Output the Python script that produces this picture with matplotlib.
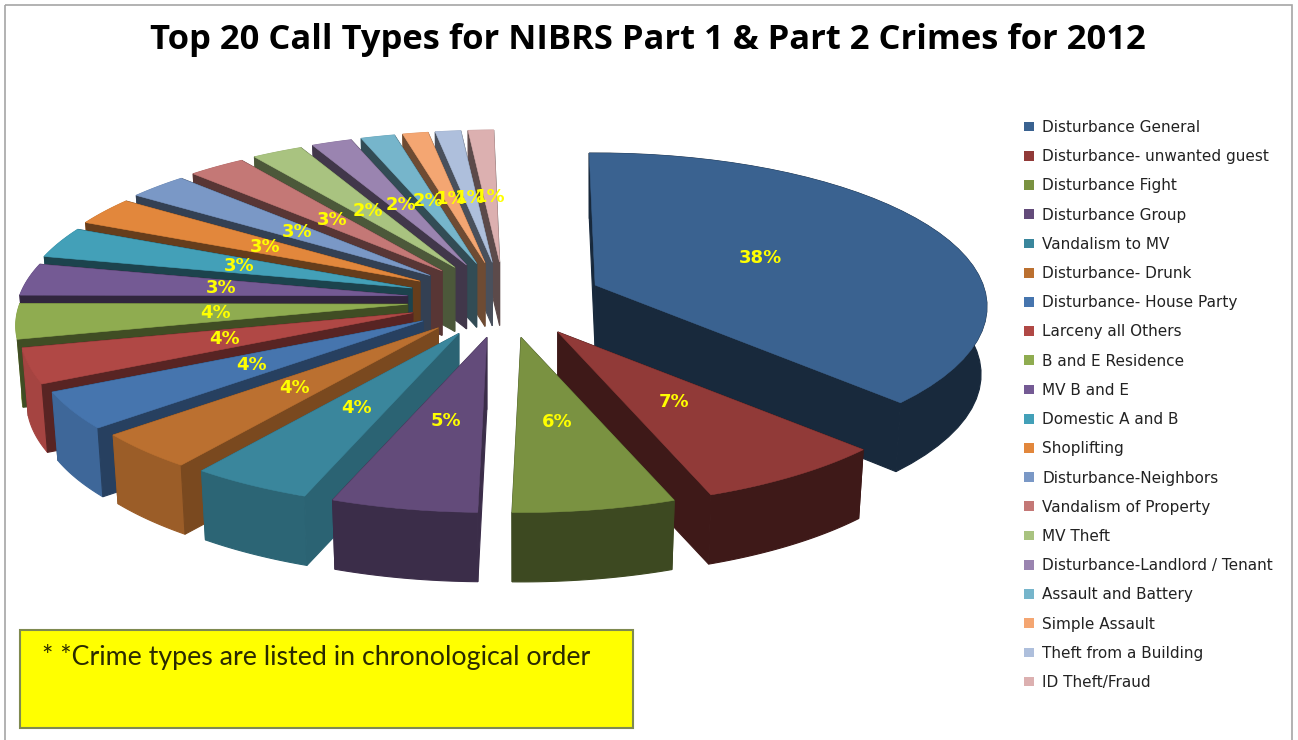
from __future__ import annotations

import numpy as np
import matplotlib
matplotlib.use("Agg")
import matplotlib.pyplot as plt
from matplotlib.patches import Patch, Polygon, Rectangle

call_types = [
    "Disturbance General", "Disturbance- unwanted guest", "Disturbance Fight",
    "Disturbance Group", "Vandalism to MV", "Disturbance- Drunk",
    "Disturbance- House Party", "Larceny all Others", "B and E Residence",
    "MV B and E", "Domestic A and B", "Shoplifting", "Disturbance-Neighbors",
    "Vandalism of Property", "MV Theft", "Disturbance-Landlord / Tenant",
    "Assault and Battery", "Simple Assault", "Theft from a Building",
    "ID Theft/Fraud",
]
call_shares = [37.8, 7.0, 5.9, 5.3, 4.4, 3.8, 3.9, 3.7, 3.7, 3.4,
               3.3, 3.0, 2.8, 2.7, 2.4, 1.9, 1.6, 1.2, 1.2, 1.2]
top_colors = [
    "#3a6290", "#913a38", "#7a9241", "#634b7a", "#3a869c", "#bb7030", "#4675ae",
    "#b04845", "#8fac50", "#745a94", "#43a0b8", "#e2873c", "#7a98c6", "#c47876",
    "#a9c380", "#9a84b0", "#76b5cb", "#f4a672", "#aebfdc", "#dcb0b0",
]
# wall brightness relative to the top face
radial_shades = [0.42, 0.43, 0.5, 0.6, 0.74, 0.65, 0.55, 0.5, 0.45, 0.42,
                 0.42, 0.45, 0.42, 0.45, 0.45, 0.42, 0.42, 0.45, 0.42, 0.42]
outer_shades = [0.42, 0.43, 0.5, 0.6, 0.75, 0.83, 0.88, 0.94, 0.95, 0.9,
                0.9, 0.9, 0.9, 0.9, 0.9, 0.9, 0.9, 0.9, 0.9, 0.9]

title = "Top 20 Call Types for NIBRS Part 1 & Part 2 Crimes for 2012"
note = "* *Crime types are listed in chronological order"

CENTER_X, CENTER_Y = 505, 300
EXPLODE_X, EXPLODE_Y = 98, 38
RADIUS_X, RADIUS_Y = 388, 150.5
PERSPECTIVE = 0.14
WALL = 67.5
START_ANGLE = -1.0


def rim(angles):
    u = np.sin(np.radians(angles))
    v = -np.cos(np.radians(angles))
    scale = 1 - PERSPECTIVE * v
    return RADIUS_X * u / scale, RADIUS_Y * v / scale


def wall_height(angles):
    return WALL / (1 - 0.45 * PERSPECTIVE * -np.cos(np.radians(angles)))


def shade(color, factor):
    return tuple(c * factor for c in matplotlib.colors.to_rgb(color))


fig = plt.figure(figsize=(12.98, 7.4), dpi=100)
ax = fig.add_axes([0, 0, 1, 1])
ax.set_xlim(0, 1298)
ax.set_ylim(740, 0)
ax.axis("off")

ax.add_patch(Rectangle((5, 5), 1287, 760, fill=False, ec="#a6a6a6", lw=1.2))

shares = np.array(call_shares) / sum(call_shares) * 360
edges = START_ANGLE + np.concatenate([[0], np.cumsum(shares)])
middles = (edges[:-1] + edges[1:]) / 2

# back to front so nearer slices cover the others
for i in np.argsort(-np.cos(np.radians(middles))):
    a0, a1, mid = edges[i], edges[i + 1], middles[i]
    apex_x = CENTER_X + EXPLODE_X * np.sin(np.radians(mid))
    apex_y = CENTER_Y - EXPLODE_Y * np.cos(np.radians(mid))
    arc = np.linspace(a0, a1, 40)
    dx, dy = rim(arc)
    heights = wall_height(arc)
    apex_h = wall_height(mid)
    top = np.column_stack([apex_x + dx, apex_y + dy])
    bottom = np.column_stack([apex_x + 0.985 * dx, apex_y + 0.985 * dy + heights])
    side = shade(top_colors[i], radial_shades[i])
    front = shade(top_colors[i], outer_shades[i])

    start_wall = [(apex_x, apex_y), top[0], bottom[0], (apex_x, apex_y + apex_h)]
    end_wall = [(apex_x, apex_y), top[-1], bottom[-1], (apex_x, apex_y + apex_h)]
    outer_wall = np.vstack([top, bottom[::-1]])
    if mid < 180:
        faces = [(start_wall, side), (outer_wall, front), (end_wall, side)]
    else:
        faces = [(end_wall, side), (outer_wall, front), (start_wall, side)]
    for points, color in faces:
        ax.add_patch(Polygon(points, closed=True, fc=color, ec=color, lw=0.8))
    face = np.vstack([[(apex_x, apex_y)], top])
    ax.add_patch(Polygon(face, closed=True, fc=top_colors[i], ec=top_colors[i], lw=0.4))

for i, mid in enumerate(middles):
    dx, dy = rim(mid)
    label_x = CENTER_X + EXPLODE_X * np.sin(np.radians(mid)) + 0.49 * dx
    label_y = CENTER_Y - EXPLODE_Y * np.cos(np.radians(mid)) + 0.49 * dy
    ax.text(label_x, label_y, f"{round(call_shares[i])}%", color="#ffff00", fontsize=13,
            fontweight="bold", ha="center", va="center", zorder=10)

ax.text(648, 40, title, fontsize=24.8, fontweight="bold", family="Open Sans",
        ha="center", va="center", color="black")

handles = [Patch(fc=c, ec="none") for c in top_colors]
ax.legend(handles, call_types, loc="upper left", bbox_to_anchor=(1024 / 1298, 1 - 120 / 740),
          frameon=False, labelspacing=0.93, handlelength=0.66, handleheight=0.6,
          handletextpad=0.52, borderpad=0, borderaxespad=0,
          prop={"family": "DejaVu Sans", "size": 11}, labelcolor="#222222")

ax.add_patch(Rectangle((20, 630), 613, 98, fc="#ffff00", ec="#7f8a50", lw=1.5, zorder=5))
ax.text(42, 657, note, fontsize=19.3, family="Lato", color="#2a2a00", ha="left",
        va="center", zorder=6)

fig.savefig("out.png", dpi=100)
